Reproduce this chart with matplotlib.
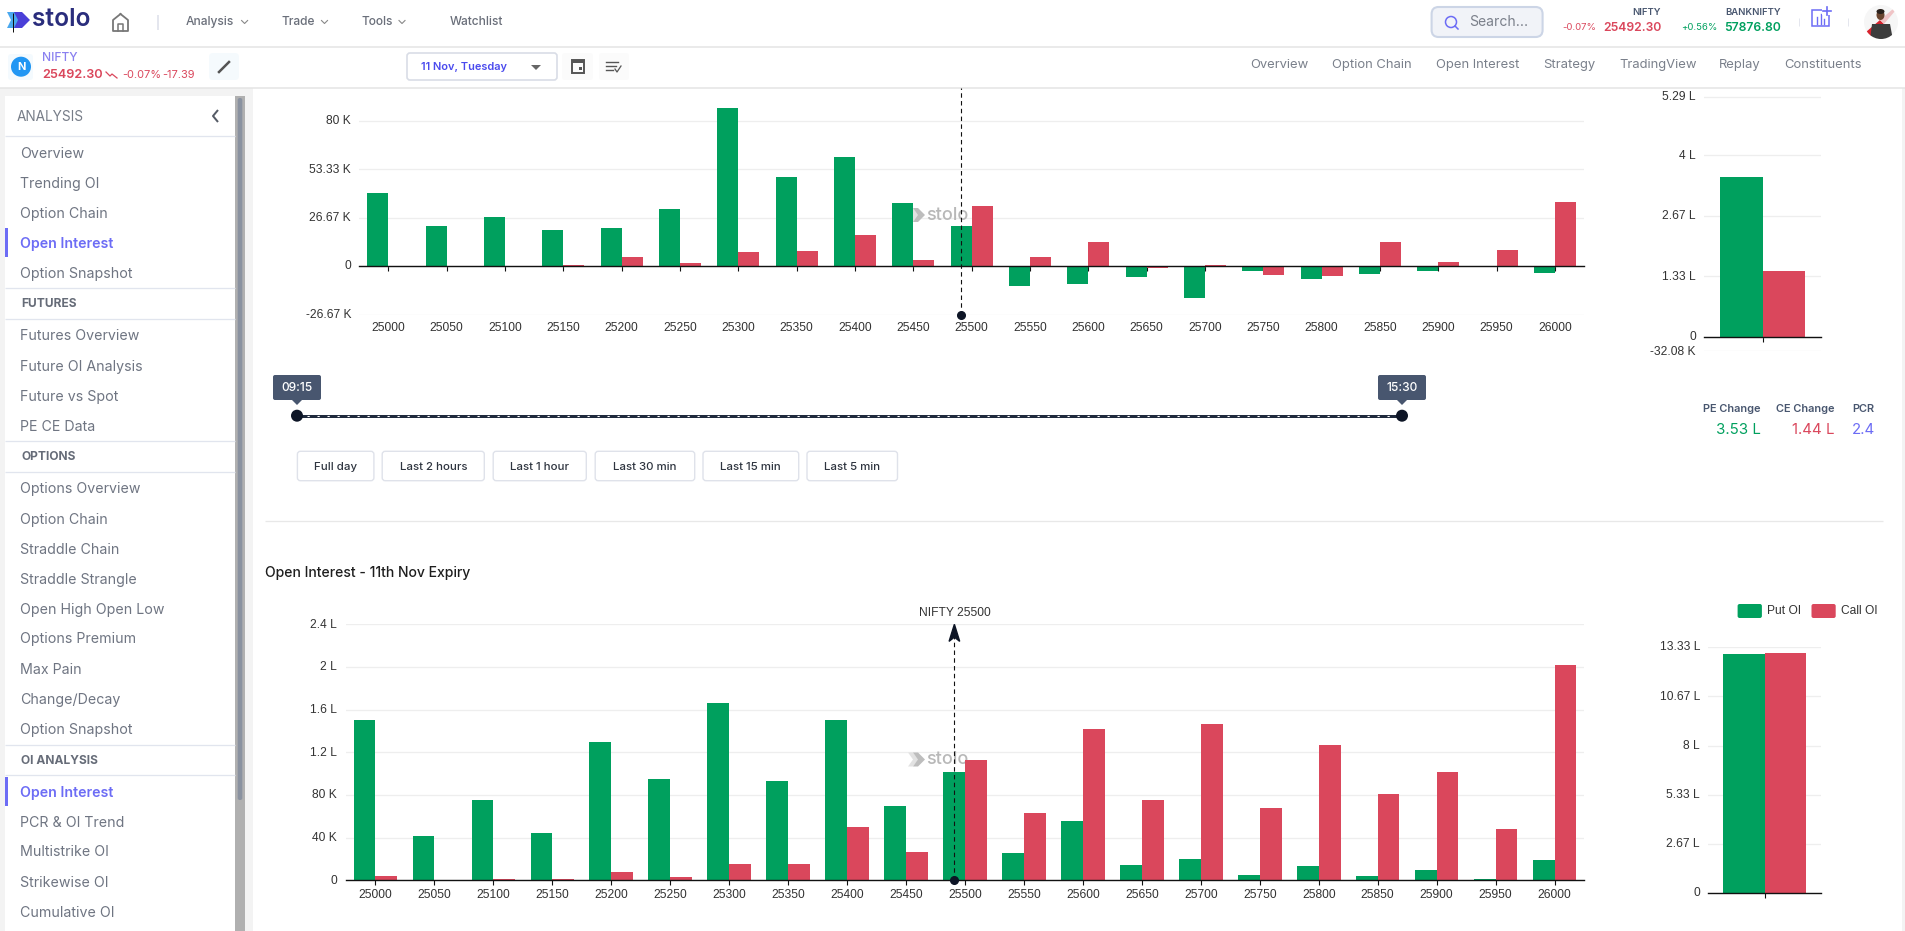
import numpy as np
import matplotlib
matplotlib.use("Agg")
import matplotlib.pyplot as plt
from matplotlib.patches import Rectangle, FancyBboxPatch, Polygon, Circle, Ellipse
from matplotlib.transforms import ScaledTranslation

W, H = 1905, 931
GREEN = "#00a05e"
RED = "#da475c"
GRID = "#eeeeee"
PURPLE = "#6c6cf5"
GRAY = "#6f7582"
SLATE = "#48566f"

strikes = list(range(25000, 26001, 50))
chg_put = [40.4, 22.2, 26.9, 20.2, 20.8, 31.7, 87.0, 48.9, 60.1, 34.6, 22.0,
           -10.8, -9.9, -5.7, -17.2, -2.6, -6.8, -4.0, -2.6, -0.5, -3.5]
chg_call = [0.4, 0.2, 0.1, 0.5, 5.3, 1.6, 8.1, 8.2, 17.4, 3.3, 33.0,
            4.9, 13.2, -0.7, 0.5, -4.9, -5.5, 13.2, 2.2, 8.8, 35.3]
oi_put = [150.3, 41.9, 75.6, 44.1, 129.4, 95.0, 165.9, 92.8, 150.0, 69.4, 101.6,
          25.6, 55.6, 14.4, 20.0, 5.0, 13.4, 4.1, 9.7, 0.9, 19.4]
oi_call = [4.1, 0.3, 1.2, 0.9, 7.5, 2.8, 15.0, 15.0, 50.0, 26.9, 112.5,
           63.1, 141.6, 75.0, 146.9, 67.8, 126.6, 80.9, 101.9, 47.8, 202.2]
chg_total = [3.53, 1.44]
oi_total = [12.97, 13.02]
spot_pos = 9.82

chg_ticks = [-26.67, 0, 26.67, 53.33, 80]
chg_labels = ["-26.67 K", "0", "26.67 K", "53.33 K", "80 K"]
chg_total_ticks = [-0.3208, 0, 1.33, 2.67, 4, 5.29]
chg_total_labels = ["-32.08 K", "0", "1.33 L", "2.67 L", "4 L", "5.29 L"]
oi_ticks = [0, 40, 80, 120, 160, 200, 240]
oi_labels = ["0", "40 K", "80 K", "1.2 L", "1.6 L", "2 L", "2.4 L"]
oi_total_ticks = [0, 2.67, 5.33, 8, 10.67, 13.33]
oi_total_labels = ["0", "2.67 L", "5.33 L", "8 L", "10.67 L", "13.33 L"]

plt.rcParams["font.family"] = ["Inter", "DejaVu Sans"]

fig = plt.figure(figsize=(W / 100, H / 100), dpi=100, facecolor="white")

ui = fig.add_axes([0, 0, 1, 1], zorder=0)
ui.set_xlim(0, W)
ui.set_ylim(H, 0)
ui.axis("off")
top = fig.add_axes([0, 0, 1, 1], zorder=5)
top.set_xlim(0, W)
top.set_ylim(H, 0)
top.axis("off")
top.patch.set_alpha(0)


def rect(x0, y0, x1, y1, fc="white", ec="none", r=0, lw=1, ax=ui, z=1):
    if r:
        p = FancyBboxPatch((x0, y0), x1 - x0, y1 - y0, boxstyle=f"round,pad=0,rounding_size={r}",
                           fc=fc, ec=ec, lw=lw, zorder=z)
    else:
        p = Rectangle((x0, y0), x1 - x0, y1 - y0, fc=fc, ec=ec, lw=lw, zorder=z)
    ax.add_patch(p)


def txt(x, y, s, size=10, color=GRAY, ha="left", weight="normal", ax=top, **kw):
    # css line boxes sit about a pixel lower than matplotlib's centre
    ax.text(x, y + 1, s, fontsize=size * 0.72, color=color, ha=ha, va="center", fontweight=weight, **kw)


def line(xs, ys, color="#dfe3ec", lw=1, ax=ui, **kw):
    ax.plot(xs, ys, color=color, lw=lw * 0.72, solid_capstyle="butt", **kw)


def chart_axes(x0, y0, x1, y1):
    return fig.add_axes([x0 / W, 1 - y1 / H, (x1 - x0) / W, (y1 - y0) / H], zorder=2)


def style_chart(ax, ticks, labels, xpad, gap=8):
    ax.set_facecolor("none")
    for s in ["top", "left", "right"]:
        ax.spines[s].set_visible(False)
    ax.spines["bottom"].set_position(("data", 0))
    ax.spines["bottom"].set_linewidth(1.0)
    ax.spines["bottom"].set_color("#111111")
    ax.spines["bottom"].set_zorder(4)
    ax.set_yticks(ticks, labels)
    ax.tick_params(axis="y", length=0, pad=gap * 0.72, labelsize=8.64, labelcolor="#333333",
                   labelfontfamily="Liberation Sans")
    ax.tick_params(axis="x", length=3.6, width=0.8, color="#111111", pad=xpad, labelsize=8.64,
                   labelcolor="#333333", labelfontfamily="Liberation Sans")
    up = ScaledTranslation(0, 1.3 / 100, fig.dpi_scale_trans)
    for lbl in ax.get_yticklabels():
        lbl.set_transform(lbl.get_transform() + up)
    ax.grid(axis="y", color=GRID, lw=0.9)
    ax.set_axisbelow(True)


def watermark(ax, x, y):
    ax.add_patch(Polygon([[x, y - 7], [x + 5, y - 7], [x + 11, y], [x + 5, y + 7], [x, y + 7], [x + 5, y]],
                         fc="#e2e2e2", ec="none", transform=ui.transData, zorder=1.5))
    ax.add_patch(Polygon([[x + 5, y - 7], [x + 10, y - 7], [x + 17, y], [x + 10, y + 7], [x + 5, y + 7], [x + 10, y]],
                         fc="#bdbdbd", ec="none", transform=ui.transData, zorder=1.5))
    ax.text(x + 18, y, "stolo", fontsize=13, color="#b8b8b8", va="center", ha="left",
            fontweight="medium", transform=ui.transData, zorder=1.5)


def group_bars(ax, puts, calls, width):
    pos = np.arange(len(puts))
    ax.bar(pos - width / 2, puts, width, color=GREEN, zorder=3, label="Put OI")
    ax.bar(pos + width / 2, calls, width, color=RED, zorder=3, label="Call OI")


# ---- page background
rect(0, 88, 5, H, fc="#f3f3f3")
rect(245, 88, 253, H, fc="#f3f3f3")
rect(0, 88, 253, 96, fc="#f3f3f3")
rect(1902, 88, W, H, fc="#f3f3f3")
line([0, W], [47, 47], color="#e4e4e4", lw=1.5)
line([0, W], [88.3, 88.3], color="#e4e4e4", lw=1.5)

# ---- sidebar
rect(5, 96, 235, H + 10, fc="white", r=4)
rect(235, 96, 245, H, fc="#b0b0b0")
rect(237.7, 98, 242.3, 800, fc="#8a92a0", r=2)
txt(17, 115.7, "ANALYSIS", 13.6, color="#777d88")
line([218, 213, 218], [110, 116, 122], color="#555b66", lw=2)
side_items = [
    (152.7, "Overview"), (182.7, "Trending OI"), (212.7, "Option Chain"), (243, "Open Interest"),
    (273, "Option Snapshot"), (335, "Futures Overview"), (365.6, "Future OI Analysis"),
    (395.8, "Future vs Spot"), (425.6, "PE CE Data"), (488.5, "Options Overview"),
    (518.7, "Option Chain"), (548.8, "Straddle Chain"), (578.6, "Straddle Strangle"),
    (608.7, "Open High Open Low"), (638.5, "Options Premium"), (668.7, "Max Pain"),
    (698.8, "Change/Decay"), (728.6, "Option Snapshot"), (791.6, "Open Interest"),
    (821.7, "PCR & OI Trend"), (851.5, "Multistrike OI"), (881.7, "Strikewise OI"),
    (911.8, "Cumulative OI"),
]
for y, s in side_items:
    active = s == "Open Interest"
    txt(19.8, y, s, 14.2, color=PURPLE if active else GRAY, weight="semibold" if active else "normal")
for y0, y1 in [(228, 257), (777, 806)]:
    rect(5, y0, 8.2, y1, fc=PURPLE, z=2)
for y, s in [(303.3, "FUTURES"), (456.5, "OPTIONS"), (759.5, "OI ANALYSIS")]:
    txt(21, y, s, 12, color="#666c78", weight="bold")
for y in [136.3, 288.3, 319.3, 441.4, 472.3, 744.5, 775.4]:
    line([5, 235], [y, y], color="#e1e5ee", lw=1.3)

# ---- header
top.add_patch(Polygon([[7, 12], [15, 12], [20, 20], [15, 28], [7, 28], [11, 20]], fc="#4aa8ee", ec="none"))
top.add_patch(Polygon([[14, 12], [22, 12], [30, 20], [22, 28], [14, 28], [18, 20]], fc="#4a3fd8", ec="none"))
line([13.3, 13.3], [13, 32], color="#111111", lw=1, ax=top)
txt(32, 19, "stolo", 24.5, color="#2a2d7c", weight="semibold")
top.plot([120.5, 113, 113, 128, 128, 120.5], [14, 20, 31, 31, 20, 14], color="#777777", lw=1.3)
top.plot([118, 118, 123, 123], [31, 24, 24, 31], color="#777777", lw=1.1)
line([158, 158], [15, 30], color="#e4e6ee", lw=2, ax=top)
nav_items = [(186, "Analysis", 244.6), (282, "Trade", 324.5), (362, "Tools", 402), (449.5, "Watchlist", None)]
for x, s, chev in nav_items:
    txt(x, 21.2, s, 12, color="#6a6f7a", weight="medium")
    if chev:
        top.plot([chev - 3, chev, chev + 3], [20.5, 23.5, 20.5], color="#888888", lw=0.8)

# search
rect(1431.6, 7, 1542.6, 37, fc="#f1f3f8", ec="#ccd5e6", r=7, lw=1.5, ax=top)
top.add_patch(Circle((1451, 22), 5.5, fc="none", ec=PURPLE, lw=1.1))
top.plot([1455, 1458], [26, 29], color=PURPLE, lw=1.1)
txt(1469, 21.5, "Search...", 14, color="#7b808b")

# tickers
txt(1661, 11.7, "NIFTY", 9.5, color=SLATE, ha="right", weight="semibold")
txt(1781, 11.7, "BANKNIFTY", 9.5, color=SLATE, ha="right", weight="semibold")
txt(1596, 26.7, "-0.07%", 9.5, color=RED, ha="right")
txt(1661, 26.7, "25492.30", 12.2, color=RED, ha="right", weight="semibold")
txt(1717, 26.7, "+0.56%", 9.5, color=GREEN, ha="right")
txt(1781, 26.7, "57876.80", 12.2, color=GREEN, ha="right", weight="semibold")
rect(1812, 10, 1829, 26, fc="none", ec=PURPLE, lw=1.1, ax=top)
top.plot([1817, 1817], [17, 24], color=PURPLE, lw=1)
top.plot([1820.5, 1820.5], [14, 24], color=PURPLE, lw=1)
top.plot([1824, 1824], [19, 24], color=PURPLE, lw=1)
rect(1822, 6, 1832, 15, fc="white", ax=top, z=2)
top.plot([1827, 1827], [7, 15], color=PURPLE, lw=1.2, zorder=3)
top.plot([1823, 1831], [11, 11], color=PURPLE, lw=1.2, zorder=3)
line([1799, 1799], [18, 26], color="#e4e6ee", ax=top)
line([1848, 1848], [18, 26], color="#e4e6ee", ax=top)
# avatar, rough shapes clipped to the round frame
frame = Circle((1881, 22), 17, fc="#f6f6f6", ec="none")
top.add_patch(frame)
for poly, col in [([[1866, 32], [1880, 20], [1884, 24], [1871, 37]], "#d8232e"),
                  ([[1880, 20], [1893, 9], [1895, 11], [1884, 24]], "#f0c4c6"),
                  ([[1872, 24], [1890, 24], [1893, 40], [1870, 40]], "#3c3c3c")]:
    p = Polygon(poly, fc=col, ec="none")
    top.add_patch(p)
    p.set_clip_path(frame)
top.add_patch(Ellipse((1880.5, 15), 8, 10, fc="#6b4630", ec="none"))
top.add_patch(Ellipse((1880.5, 11.5), 8, 5, fc="#2a211c", ec="none"))

# second row
rect(8, 54, 33, 80, fc="#f4fafe", r=3, ax=ui)
top.add_patch(Circle((21, 66.7), 10, fc="#2196f3", ec="none"))
txt(21, 65.7, "N", 11, color="white", ha="center", weight="bold")
txt(42, 56.7, "NIFTY", 12, color="#8a80f0", weight="medium")
txt(42, 74.5, "25492.30", 12.7, color=RED, weight="semibold")
top.plot([106, 110, 112, 117], [72, 76, 74, 78], color=RED, lw=0.9)
txt(122, 74, "-0.07%", 11, color=RED)
txt(162.5, 74, "-17.39", 11, color=RED)
rect(209, 53, 239, 80, fc="#f5fafd", r=4)
top.plot([219, 229], [72, 62], color="#555555", lw=1.8)
rect(407, 53, 557, 80, fc="white", ec="#d9dde6", r=3, lw=1.2)
txt(421, 66.5, "11 Nov, Tuesday", 11, color="#4a4aee", weight="semibold")
top.add_patch(Polygon([[531, 65], [541, 65], [536, 70]], fc="#666666", ec="none"))
for x0, x1 in [(562, 593), (599, 629)]:
    rect(x0, 53, x1, 80, fc="#fbfbfb", r=3)
rect(572, 60, 584, 73, fc="none", ec="#555555", lw=1.4, ax=top)
rect(572, 60, 584, 63, fc="#555555", ax=top)
rect(579, 67, 582, 70, fc="#555555", ax=top)
for y, x1 in [(62, 618), (66, 616), (70, 613)]:
    top.plot([606, x1], [y, y], color="#555555", lw=1)
top.plot([615, 617, 621], [69, 72, 66], color="#555555", lw=0.9)
tabs = [(1250, "Overview"), (1332, "Option Chain"), (1436, "Open Interest"), (1543, "Strategy"),
        (1619, "TradingView"), (1719, "Replay"), (1784.5, "Constituents")]
for x, s in tabs:
    txt(x, 64.2, s, 13, color="#7a808b")

# ---- change in OI chart
px_per_k = (315.3 - 121.3) / 106.67
ax1 = chart_axes(359, 87.5, 1584, 314.8)
group_bars(ax1, chg_put, chg_call, 0.36)
ax1.set_xlim(-0.5, 20.5)
ax1.set_ylim(-26.67, 80 + (121.3 - 88) / px_per_k)
ax1.set_xticks(range(len(strikes)), strikes)
style_chart(ax1, chg_ticks, chg_labels, xpad=36.8)
ax1.plot([spot_pos, spot_pos], [-26.67, ax1.get_ylim()[1]], color="#111111", lw=0.8, ls=(0, (4, 3)), zorder=5)
ax1.plot([spot_pos], [-26.67], "o", color="#0d1526", ms=5.5, zorder=6, clip_on=False)
watermark(ax1, 908, 215)

ax2 = chart_axes(1704, 88, 1821.4, 351.3)
ax2.bar([-0.5], [chg_total[0]], 1, color=GREEN, zorder=3)
ax2.bar([0.5], [chg_total[1]], 1, color=RED, zorder=3)
ax2.set_xlim(-1.375, 1.375)
ax2.set_ylim(-0.3208, 0 + (336.3 - 88) / 45.25)
ax2.set_xticks([0], [""])
style_chart(ax2, chg_total_ticks, chg_total_labels, xpad=2)

# ---- time slider
line([297, 1402], [415.7, 415.7], color="#1f2a3d", lw=3, ax=top)
top.plot([297, 1402], [415.7, 415.7], color="white", lw=0.8, ls=(0, (2, 7)))
for x, s in [(297, "09:15"), (1402, "15:30")]:
    top.add_patch(Circle((x, 415.7), 6, fc="#0d1526", ec="none", zorder=4))
    rect(x - 24, 375, x + 24, 400, fc=SLATE, r=2, ax=top)
    top.add_patch(Polygon([[x - 5, 400], [x + 5, 400], [x, 405]], fc=SLATE, ec="none"))
    txt(x, 387, s, 12, color="white", ha="center", weight="medium")
buttons = [(297.4, 373.9, "Full day"), (382.2, 484.3, "Last 2 hours"), (493.2, 586.3, "Last 1 hour"),
           (595.2, 694.7, "Last 30 min"), (703, 798.7, "Last 15 min"), (807, 897.5, "Last 5 min")]
for x0, x1, s in buttons:
    rect(x0, 451.3, x1, 480.7, fc="white", ec="#dfe2ea", r=3, lw=1)
    txt((x0 + x1) / 2, 465.5, s, 11.5, color="#2f3540", ha="center", weight="medium")

# ---- PCR stats
for xr, s in [(1760.7, "PE Change"), (1835, "CE Change"), (1874.7, "PCR")]:
    txt(xr, 407.5, s, 11, color=SLATE, ha="right", weight="semibold")
txt(1760.7, 428.5, f"{chg_total[0]} L", 15, color=GREEN, ha="right")
txt(1835, 428.5, f"{chg_total[1]} L", 15, color=RED, ha="right")
txt(1874.7, 428.5, "2.4", 15, color=PURPLE, ha="right")

line([265, 1883], [521.3, 521.3], color="#e8e8e8", lw=1.3)
txt(265, 572.5, "Open Interest - 11th Nov Expiry", 14, color="#1e1e1e", weight="medium")

# ---- open interest chart
ax3 = chart_axes(346, 624.3, 1584, 880.3)
group_bars(ax3, oi_put, oi_call, 0.37)
ax3.set_xlim(-0.5, 20.5)
ax3.set_ylim(0, 240)
ax3.set_xticks(range(len(strikes)), strikes)
style_chart(ax3, oi_ticks, oi_labels, xpad=2.5, gap=9)
ax3.plot([spot_pos, spot_pos], [0, 232], color="#111111", lw=0.8, ls=(0, (4, 3)), zorder=5)
ax3.fill([spot_pos, spot_pos - 0.09, spot_pos, spot_pos + 0.09],
         [240, 224, 228, 224], color="#0d1526", zorder=6, clip_on=False)
ax3.plot([spot_pos], [0], "o", color="#0d1526", ms=5.5, zorder=6, clip_on=False)
ax3.text(spot_pos, 245, "NIFTY 25500", fontsize=8.64, color="#333333", ha="center", va="bottom",
         fontfamily="Liberation Sans", zorder=6, clip_on=False)
watermark(ax3, 908, 759.5)

ax4 = chart_axes(1708, 647.3, 1821.3, 893.3)
ax4.bar([-0.5], [oi_total[0]], 1, color=GREEN, zorder=3)
ax4.bar([0.5], [oi_total[1]], 1, color=RED, zorder=3)
ax4.set_xlim(-1.375, 1.375)
ax4.set_ylim(0, 13.33)
ax4.set_xticks([0], [""])
style_chart(ax4, oi_total_ticks, oi_total_labels, xpad=2)

# legend is drawn by hand, swatches are rounded
rect(1737.6, 604, 1761.9, 618, fc=GREEN, r=2, ax=top)
rect(1811.5, 604, 1835.7, 618, fc=RED, r=2, ax=top)
txt(1767, 609.5, "Put OI", 12, color="#333333", family="Liberation Sans")
txt(1841, 609.5, "Call OI", 12, color="#333333", family="Liberation Sans")

fig.savefig("out.png", dpi=100)
